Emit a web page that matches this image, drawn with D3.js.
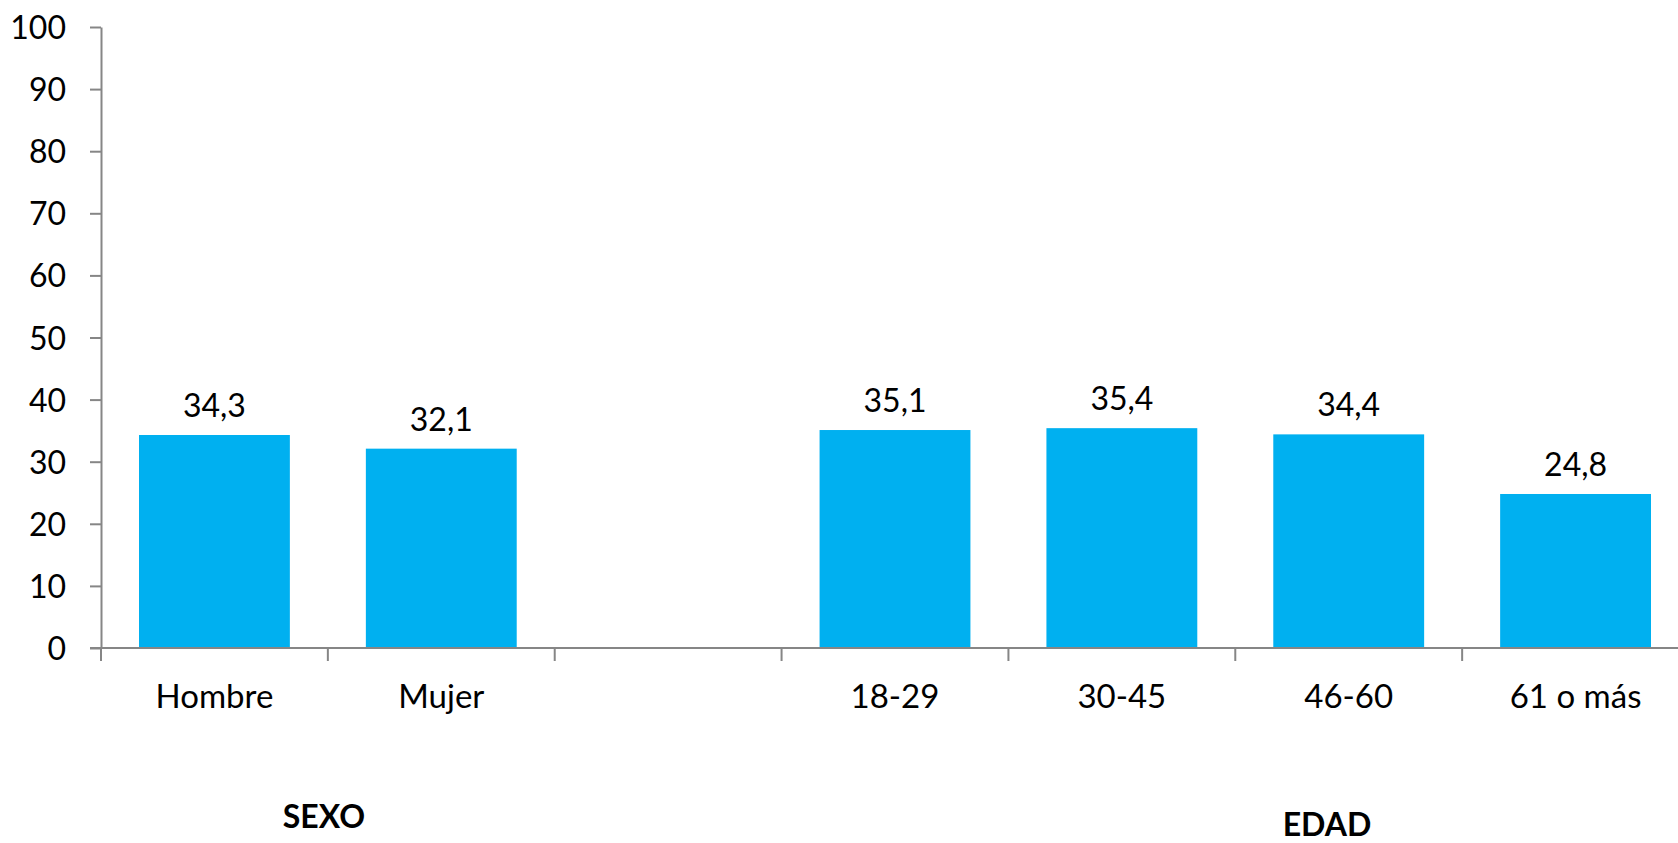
<!DOCTYPE html>
<html>
<head>
<meta charset="utf-8">
<script src="https://cdn.jsdelivr.net/npm/d3@7"></script>
<style>
  html, body { margin: 0; padding: 0; background: #fff; overflow: hidden; }
  svg { display: block; font-family: Lato, "Open Sans", sans-serif; }
</style>
</head>
<body>
<svg id="chart" width="1678" height="843"></svg>
<script>
// Data
const categories = ["Hombre", "Mujer", "", "18-29", "30-45", "46-60", "61 o más"];
const values = [34.3, 32.1, null, 35.1, 35.4, 34.4, 24.8];
const valueLabels = ["34,3", "32,1", "", "35,1", "35,4", "34,4", "24,8"];
const yTicks = [0, 10, 20, 30, 40, 50, 60, 70, 80, 90, 100];
const groupLabels = ["SEXO", "EDAD"];

const svg = d3.select("#chart");
const x0 = 101, x1 = 1689, yBottom = 648, yTop = 27;

const x = d3.scaleBand().domain(d3.range(categories.length)).range([x0, x1])
  .paddingInner(0.335).paddingOuter(0.1675);
const slot = d3.scaleBand().domain(d3.range(categories.length)).range([x0, x1]);
const y = d3.scaleLinear().domain([0, 100]).range([yBottom, yTop]);

const axisColor = "#868686";

// Bars
const data = categories.map((c, i) => ({c, v: values[i], l: valueLabels[i], i}));
svg.append("g").selectAll("rect")
  .data(data.filter(d => d.v != null))
  .join("rect")
  .attr("x", d => x(d.i))
  .attr("width", x.bandwidth())
  .attr("y", d => y(d.v))
  .attr("height", d => y(0) - y(d.v))
  .attr("fill", "#00B0F0");

// Value labels
svg.append("g").selectAll("text")
  .data(data.filter(d => d.v != null))
  .join("text")
  .attr("x", d => x(d.i) + x.bandwidth() / 2)
  .attr("y", d => y(d.v) - 18)
  .attr("text-anchor", "middle")
  .attr("font-size", 32)
  .attr("fill", "#000")
  .text(d => d.l);

// Y axis
const yAxis = d3.axisLeft(y).tickValues(yTicks).tickSize(11).tickPadding(24).tickSizeOuter(0);
const gy = svg.append("g").attr("transform", `translate(${x0},0)`).call(yAxis);
gy.select(".domain").attr("stroke", axisColor).attr("stroke-width", 2);
gy.selectAll(".tick line").attr("stroke", axisColor).attr("stroke-width", 2);
gy.selectAll(".tick text").attr("font-size", 32).attr("fill", "#000")
  .attr("font-family", "Lato, 'Open Sans', sans-serif").attr("dy", "0.36em");

// X axis line with ticks at slot boundaries
const gx = svg.append("g");
gx.append("line").attr("x1", x0 - 11).attr("x2", x1).attr("y1", yBottom).attr("y2", yBottom)
  .attr("stroke", axisColor).attr("stroke-width", 2);
const boundaries = d3.range(categories.length + 1).map(i => i < categories.length ? slot(i) : x1);
gx.selectAll("line.tk").data(boundaries).join("line").attr("class", "tk")
  .attr("x1", d => d).attr("x2", d => d)
  .attr("y1", yBottom).attr("y2", yBottom + 13)
  .attr("stroke", axisColor).attr("stroke-width", 2);
gx.selectAll("text").data(data).join("text")
  .attr("x", d => slot(d.i) + slot.bandwidth() / 2)
  .attr("y", 708)
  .attr("text-anchor", "middle")
  .attr("font-size", 33)
  .attr("fill", "#000")
  .text(d => d.c);

// Group labels
const groupPos = [[324, 828], [1327, 836]];
svg.append("g").selectAll("text").data(groupLabels).join("text")
  .attr("x", (d, i) => groupPos[i][0])
  .attr("y", (d, i) => groupPos[i][1])
  .attr("text-anchor", "middle")
  .attr("font-size", 32)
  .attr("font-weight", "bold")
  .attr("fill", "#000")
  .text(d => d);
</script>
</body>
</html>
